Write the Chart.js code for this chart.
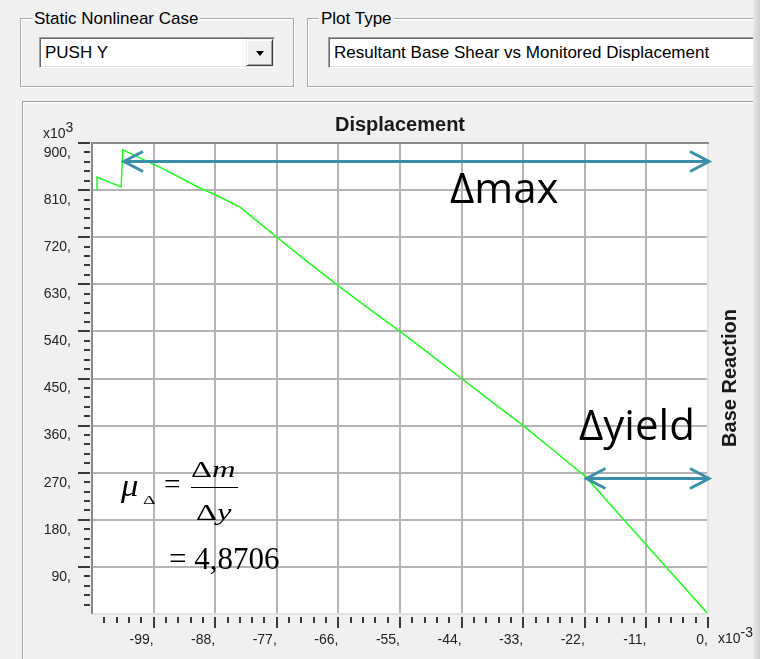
<!DOCTYPE html>
<html>
<head>
<meta charset="utf-8">
<title>Pushover curve</title>
<script src="https://cdn.jsdelivr.net/npm/chart.js@4.4.1/dist/chart.umd.min.js"></script>
<style>
  html, body { margin: 0; padding: 0; }
  body {
    width: 760px; height: 659px; overflow: hidden; position: relative;
    background: #f0f0f0; font-family: "Liberation Sans", Arial, sans-serif; color: #000;
  }
  .abs { position: absolute; white-space: nowrap; line-height: 1; }
  .group { position: absolute; border: 1px solid #a9a9a9; box-shadow: 1px 1px 0 #fff, inset 1px 1px 0 #fff; }
  .glabel { position: absolute; background: #f0f0f0; padding: 0 2px; font-size: 17px; line-height: 1; white-space: nowrap; }
  .field {
    position: absolute; background: #fff; box-sizing: border-box;
    border-top: 1px solid #a0a0a0; border-left: 1px solid #a0a0a0;
    border-bottom: 1px solid #fff; border-right: 1px solid #fff;
    box-shadow: inset 1px 1px 0 #696969, inset -1px -1px 0 #e3e3e3;
    font-size: 17px; line-height: 29px; padding-left: 5px; white-space: nowrap; overflow: hidden;
  }
  .btn {
    position: absolute; box-sizing: border-box; background: #f0f0f0;
    border-top: 1px solid #f0f0f0; border-left: 1px solid #f0f0f0;
    border-bottom: 1px solid #404040; border-right: 1px solid #404040;
    box-shadow: inset 1px 1px 0 #fff, inset -1px -1px 0 #a0a0a0;
  }
  .tri { position: absolute; width: 0; height: 0; border-left: 4px solid transparent; border-right: 4px solid transparent; border-top: 5px solid #000; }
  #panel { position: absolute; left: 22px; top: 101px; width: 760px; height: 600px;
    border-top: 1px solid #a0a0a0; border-left: 1px solid #a0a0a0;
    box-shadow: inset 1px 1px 0 #fff; }
  #chartBox { position: absolute; left: 0; top: 0; width: 760px; height: 659px; z-index: 1; }
  .over { z-index: 2; }
  #shade { position: absolute; left: 753px; top: 0; width: 7px; height: 659px; z-index: 3;
    background: linear-gradient(to right, #e8e8e8, #cfcfcf); }
  .serif { font-family: "Liberation Serif", "Times New Roman", serif; transform-origin: 0 0; }
  .big { font-family: "Open Sans", "Noto Sans", sans-serif; font-size: 42px; }
</style>
</head>
<body>
<div class="group" style="left:20px; top:18px; width:272px; height:67px;"></div>
<div class="glabel" style="left:32px; top:10px;">Static Nonlinear Case</div>
<div class="field" style="left:39px; top:37px; width:236px; height:31px;">PUSH Y</div>
<div class="btn" style="left:246px; top:39px; width:27px; height:27px;"><div class="tri" style="left:9px; top:11px;"></div></div>

<div class="group" style="left:307px; top:18px; width:470px; height:67px;"></div>
<div class="glabel" style="left:319px; top:10px;">Plot Type</div>
<div class="field" style="left:328px; top:37px; width:440px; height:31px;">Resultant Base Shear vs Monitored Displacement</div>

<div id="panel"></div>
<div id="chartBox"><canvas id="chart-pushover" width="760" height="659"></canvas></div>

<div class="abs over" style="left:400px; top:114px; transform:translateX(-50%); font-weight:bold; font-size:20px; color:#1a1a1a;">Displacement</div>
<div class="abs over" style="left:729px; top:378px; transform:translate(-50%,-50%) rotate(-90deg); font-weight:bold; font-size:20px; color:#1a1a1a;">Base Reaction</div>
<div class="abs over" style="left:43px; top:126px; font-size:14px; color:#222;">x10<span style="position:relative; top:-6px;">3</span></div>
<div class="abs over" style="left:718px; top:631px; font-size:14px; color:#222;">x10<span style="position:relative; top:-6px;">-3</span></div>

<div class="abs over big" style="left:450px; top:166px;">&Delta;max</div>
<div class="abs over big" style="left:579px; top:403px;">&Delta;yield</div>

<div class="abs over serif" style="left:121px; top:470px; font-size:31px; font-style:italic; transform:scaleX(1.12);">&mu;</div>
<div class="abs over serif" style="left:143px; top:493px; font-size:13px; transform:scaleX(1.5);">&Delta;</div>
<div class="abs over serif" style="left:164px; top:470px; font-size:28px; transform:scaleX(1.05);">=</div>
<div class="abs over serif" style="left:191px; top:458px; font-size:23px; transform:scaleX(1.42);">&Delta;<i>m</i></div>
<div class="abs over" style="left:191px; top:487px; width:47px; height:1px; background:#000;"></div>
<div class="abs over serif" style="left:196px; top:501px; font-size:23px; transform:scaleX(1.42);">&Delta;<i>y</i></div>
<div class="abs over serif" style="left:169px; top:543px; font-size:31px;">= 4,8706</div>

<div id="shade"></div>

<script>
// pushover curve, displacement in x10^-3, base reaction in x10^3
const dispX = [0, -5.5, -11, -16.5, -21.8, -27.5, -33, -38.5, -44, -49.5, -55, -60.5, -66, -71.5, -77,
               -83.5, -88.2, -90.9, -97.2, -104.5, -104.8, -109.1, -109.1];
const baseShear = [0, 66, 132, 198, 262, 312, 360, 405, 450, 495, 540, 583, 627, 673, 720,
                   777, 802, 815, 850, 887, 816, 835, 810];

// axis ranges and tick spacing
const xRange = [-110, 0];
const yRange = [0, 900];
const xStep = 11, yStep = 90;
const minorPerMajor = 5;

// annotation arrows: [from x, to x, at y]
const arrowMax = [-104.3, 0, 865];
const arrowYield = [-21.7, 0, 260];

const labelFont = { family: '"Liberation Sans", Arial, sans-serif', size: 14 };

const points = dispX.map((v, i) => ({ x: v, y: baseShear[i] }));

function drawLine(ctx, x1, y1, x2, y2) {
    ctx.beginPath();
    ctx.moveTo(x1, y1);
    ctx.lineTo(x2, y2);
    ctx.stroke();
}

function drawArrow(ctx, x1, x2, yy) {
    ctx.beginPath();
    ctx.moveTo(x1, yy); ctx.lineTo(x2, yy);
    ctx.moveTo(x1 + 19, yy - 10); ctx.lineTo(x1, yy); ctx.lineTo(x1 + 19, yy + 10);
    ctx.moveTo(x2 - 19, yy - 10); ctx.lineTo(x2, yy); ctx.lineTo(x2 - 19, yy + 10);
    ctx.stroke();
}

const frameAndTicks = {
    id: 'frameAndTicks',
    beforeDraw(chart) {
        const { ctx, chartArea: a } = chart;
        ctx.save();
        ctx.fillStyle = '#fff';
        ctx.fillRect(a.left, a.top, a.right - a.left, a.bottom - a.top);
        ctx.restore();
    },
    afterDatasetsDraw(chart) {
        const { ctx, chartArea: a, scales: { x, y } } = chart;
        ctx.save();
        ctx.lineWidth = 2;
        // sunken frame
        ctx.strokeStyle = '#e2e2e2';
        drawLine(ctx, a.right, a.top, a.right, a.bottom + 1);
        drawLine(ctx, a.left, a.bottom, a.right, a.bottom);
        ctx.strokeStyle = '#8a8a8a';
        drawLine(ctx, a.left - 1, a.top, a.right + 1, a.top);
        drawLine(ctx, a.left, a.top, a.left, a.bottom);

        // minor and major ticks outside the plot
        ctx.strokeStyle = '#3a3a3a';
        const ny = (yRange[1] - yRange[0]) / yStep * minorPerMajor;
        for (let k = 1; k <= ny; k++) {
            const py = Math.round(y.getPixelForValue(yRange[0] + k * yStep / minorPerMajor));
            const len = k % minorPerMajor === 0 ? 12 : 6;
            drawLine(ctx, a.left - 2 - len, py, a.left - 2, py);
        }
        const nx = (xRange[1] - xRange[0]) / xStep * minorPerMajor;
        for (let k = 1; k <= nx; k++) {
            const px = Math.round(x.getPixelForValue(xRange[0] + k * xStep / minorPerMajor));
            const len = k % minorPerMajor === 0 ? 11 : 6;
            drawLine(ctx, px, a.bottom + 3, px, a.bottom + 3 + len);
        }

        // delta arrows
        ctx.strokeStyle = '#3a8ea8';
        ctx.lineWidth = 3;
        for (const [x1, x2, yy] of [arrowMax, arrowYield]) {
            drawArrow(ctx, x.getPixelForValue(x1), x.getPixelForValue(x2) + 1, Math.round(y.getPixelForValue(yy)) + 0.5);
        }
        ctx.restore();
    }
};

const config = {
    type: 'line',
    data: {
        datasets: [{
            label: 'PUSH Y',
            data: points,
            borderColor: '#1cff1c',
            borderWidth: 1.5,
            pointRadius: 0,
            fill: false,
            tension: 0
        }]
    },
    options: {
        responsive: false,
        animation: false,
        devicePixelRatio: 1,
        layout: { padding: { left: 0, top: 143, right: 52, bottom: 0 } },
        plugins: {
            legend: { display: false },
            tooltip: { enabled: false },
            title: { display: false }
        },
        scales: {
            x: {
                type: 'linear',
                min: xRange[0],
                max: xRange[1],
                border: { display: false },
                grid: {
                    drawTicks: false,
                    lineWidth: 2,
                    color: c => (c.tick && (c.tick.value === xRange[0] || c.tick.value === xRange[1])) ? 'transparent' : '#b4b4b4'
                },
                ticks: {
                    stepSize: xStep,
                    autoSkip: false,
                    maxRotation: 0,
                    align: 'end',
                    padding: 18,
                    color: '#222',
                    font: labelFont,
                    callback: v => v === xRange[0] ? '' : Math.round(v) + ','
                },
                afterFit: s => { s.height = 45; s.paddingLeft = 0; s.paddingRight = 0; }
            },
            y: {
                min: yRange[0],
                max: yRange[1],
                border: { display: false },
                grid: {
                    drawTicks: false,
                    lineWidth: 2,
                    color: c => (c.tick && (c.tick.value === yRange[0] || c.tick.value === yRange[1])) ? 'transparent' : '#b4b4b4'
                },
                ticks: {
                    stepSize: yStep,
                    padding: 21,
                    labelOffset: 10,
                    color: '#222',
                    font: labelFont,
                    callback: v => v === yRange[0] ? '' : Math.round(v) + ','
                },
                afterFit: s => { s.width = 92; s.paddingTop = 0; s.paddingBottom = 0; }
            }
        }
    },
    plugins: [frameAndTicks]
};

const pushChart = new Chart(document.getElementById('chart-pushover'), config);
</script>
</body>
</html>
